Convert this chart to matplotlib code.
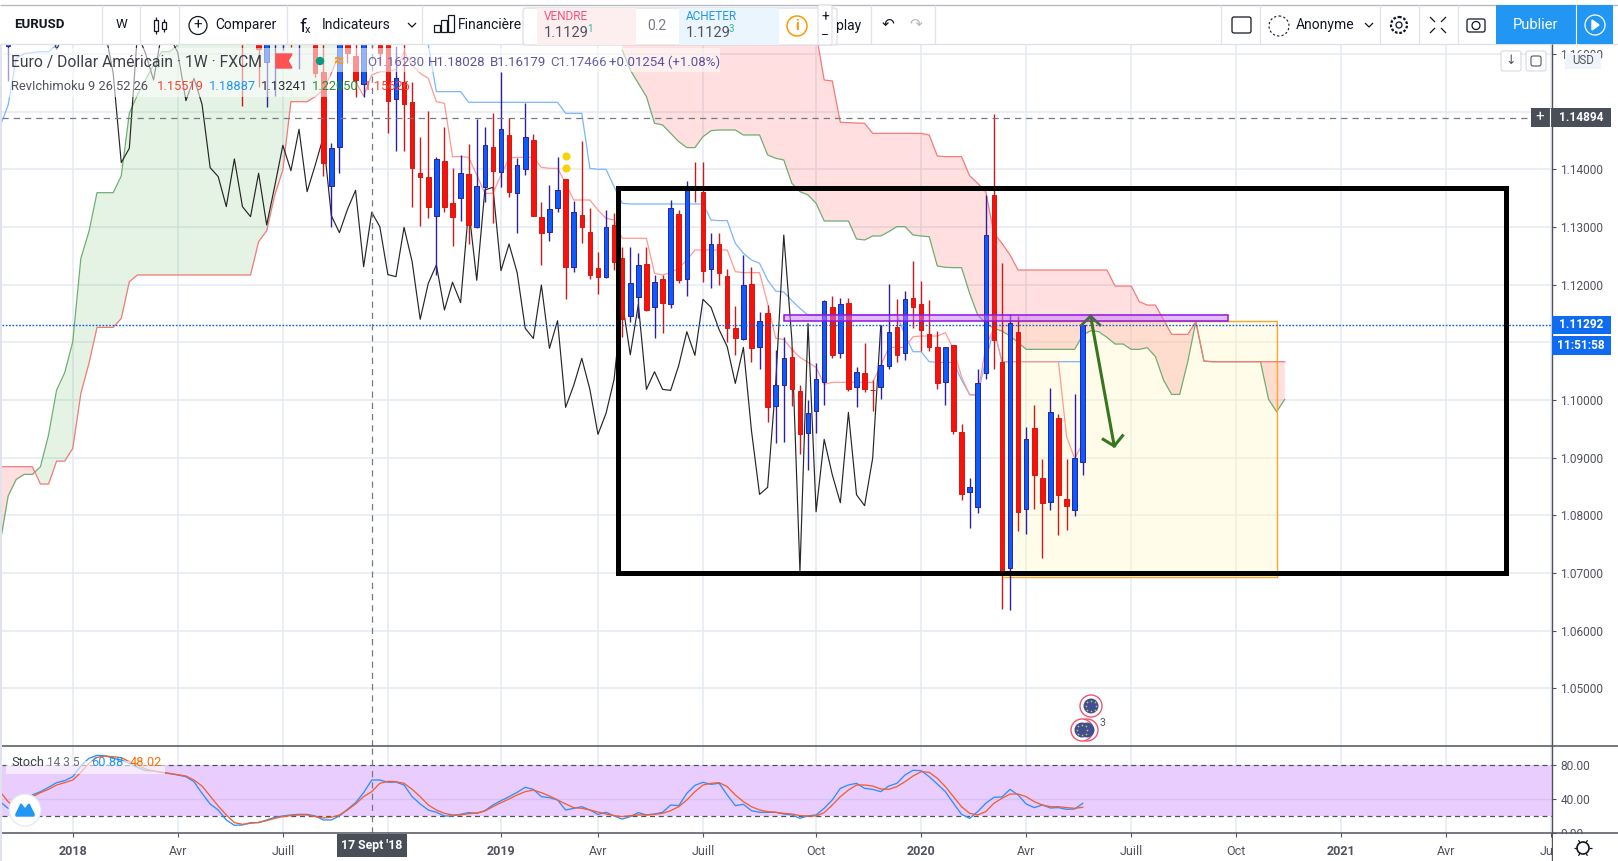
import numpy as np
import matplotlib
matplotlib.use('Agg')
import matplotlib.pyplot as plt
from matplotlib.patches import Rectangle, Circle, FancyBboxPatch

plt.rcParams['font.family'] = ['Roboto', 'DejaVu Sans']

W, H = 1618, 861

# weekly bars, bar 0 = first week of 2018
bar_idx = [-8] + list(range(21, 126))
opens = [1.1614, 1.16589, 1.1660, 1.16474, 1.15867, 1.1630, 1.1630, 1.16416, 1.1630, 1.1655,
         1.16358, 1.15682, 1.13717, 1.14381, 1.1630, 1.15971, 1.15474, 1.16416, 1.16358, 1.16358,
         1.15214, 1.1552, 1.15162, 1.13931, 1.13867, 1.13197, 1.14145, 1.1341, 1.13509, 1.13913,
         1.13006, 1.13688, 1.14381, 1.13948, 1.1459, 1.13595, 1.14, 1.14509, 1.13168, 1.12919,
         1.13335, 1.13827, 1.12312, 1.13208, 1.12913, 1.12283, 1.12139, 1.13035, 1.12457, 1.11457,
         1.1178, 1.12358, 1.11607, 1.12093, 1.11659, 1.13225, 1.12093, 1.13700, 1.13607, 1.12266,
         1.127, 1.1215, 1.11242, 1.11057, 1.12011, 1.10924, 1.11502, 1.09901, 1.10254, 1.10739,
         1.10161, 1.09421, 1.09803, 1.10306, 1.11606, 1.10808, 1.11675, 1.1023, 1.10473, 1.10173,
         1.1023, 1.10583, 1.11259, 1.10808, 1.11762, 1.11664, 1.11138, 1.10912, 1.10306, 1.10953,
         1.09439, 1.0841, 1.0815, 1.10462, 1.13554, 1.10658, 1.0708, 1.11173, 1.08103, 1.09508,
         1.08641, 1.08225, 1.09681, 1.08277, 1.08086, 1.0893]
highs = [1.1640, 1.16705, 1.1670, 1.16589, 1.16474, 1.16532, 1.16532, 1.16532, 1.16532, 1.1665,
         1.16474, 1.1630, 1.14451, 1.16474, 1.16416, 1.1630, 1.16474, 1.16532, 1.16474, 1.16474,
         1.16127, 1.1630, 1.1552, 1.14566, 1.15012, 1.1422, 1.14728, 1.14017, 1.14243, 1.14439,
         1.14873, 1.14728, 1.14971, 1.15694, 1.14896, 1.14191, 1.15144, 1.14607, 1.13428, 1.13728,
         1.14208, 1.13827, 1.13457, 1.14491, 1.13324, 1.12567, 1.13295, 1.13237, 1.12647, 1.12647,
         1.12543, 1.12647, 1.12168, 1.12168, 1.13468, 1.13295, 1.13803, 1.14121, 1.14127, 1.1289,
         1.1289, 1.12266, 1.11629, 1.12514, 1.12311, 1.11531, 1.11647, 1.10866, 1.11097, 1.10895,
         1.10254, 1.09999, 1.10635, 1.11733, 1.11803, 1.11762, 1.11762, 1.10566, 1.10982, 1.10346,
         1.1130, 1.12011, 1.11751, 1.11889, 1.12409, 1.12063, 1.11733, 1.11196, 1.10924, 1.10953,
         1.09577, 1.08641, 1.10537, 1.13554, 1.14958, 1.12369, 1.1149, 1.11456, 1.09531, 1.09913,
         1.08976, 1.10213, 1.09751, 1.08976, 1.10103, 1.11292]
lows = [1.15537, 1.15104, 1.1640, 1.15433, 1.15087, 1.15277, 1.16069, 1.16127, 1.1574, 1.1625,
        1.15595, 1.13884, 1.13006, 1.13942, 1.1585, 1.1526, 1.1526, 1.16098, 1.1585, 1.14636,
        1.14324, 1.14324, 1.13353, 1.13023, 1.13162, 1.12168, 1.13266, 1.12671, 1.13104, 1.127,
        1.12977, 1.13428, 1.13064, 1.137, 1.13526, 1.12902, 1.13902, 1.13197, 1.12341, 1.12763,
        1.13266, 1.11752, 1.12226, 1.12728, 1.12098, 1.11838, 1.1211, 1.12254, 1.11098, 1.11359,
        1.11416, 1.11549, 1.1107, 1.11168, 1.11601, 1.12023, 1.11809, 1.13428, 1.12052, 1.11937,
        1.11994, 1.11012, 1.1078, 1.1104, 1.10664, 1.10531, 1.09623, 1.09259, 1.09277, 1.09901,
        1.09057, 1.08785, 1.09421, 1.09913, 1.10733, 1.10733, 1.10161, 1.09884, 1.10144, 1.09814,
        1.10022, 1.10531, 1.10664, 1.10693, 1.11253, 1.10849, 1.10855, 1.10196, 1.09913, 1.0941,
        1.08265, 1.07785, 1.08046, 1.10363, 1.10537, 1.06375, 1.06358, 1.07733, 1.07676, 1.08109,
        1.07265, 1.08092, 1.07658, 1.07745, 1.07994, 1.08699]
closes = [1.1630, 1.16416, 1.1650, 1.16081, 1.16358, 1.16416, 1.16416, 1.1630, 1.16416, 1.1640,
          1.15665, 1.14116, 1.14364, 1.16358, 1.16011, 1.15549, 1.16358, 1.1630, 1.16023, 1.15191,
          1.15578, 1.15127, 1.14029, 1.13873, 1.13353, 1.14179, 1.13353, 1.13179, 1.13931, 1.13035,
          1.13711, 1.14416, 1.13977, 1.14694, 1.13613, 1.14069, 1.14555, 1.13197, 1.12902, 1.13306,
          1.13636, 1.12312, 1.13254, 1.13006, 1.12174, 1.12139, 1.12994, 1.12399, 1.11399, 1.12023,
          1.12341, 1.11561, 1.12041, 1.11688, 1.13324, 1.12075, 1.13642, 1.13688, 1.12243, 1.12705,
          1.12208, 1.11243, 1.11068, 1.11993, 1.10895, 1.11375, 1.09872, 1.10254, 1.10722, 1.10184,
          1.09404, 1.09768, 1.10358, 1.11716, 1.10785, 1.11658, 1.10184, 1.1049, 1.10184, 1.10167,
          1.106, 1.11184, 1.10774, 1.11745, 1.11606, 1.11219, 1.10924, 1.10288, 1.10912, 1.09467,
          1.08363, 1.08485, 1.10288, 1.1286, 1.11045, 1.07023, 1.11329, 1.08063, 1.09317, 1.08704,
          1.08219, 1.09785, 1.08358, 1.08167, 1.08988, 1.11292]

# cloud on the left of the chart, bars -9 to 34
left_span_a = [1.07514, 1.08335, 1.08624, 1.0871, 1.0871, 1.08843, 1.09392, 1.10173, 1.10473, 1.11011,
               1.12456, 1.12919, 1.13595, 1.13595, 1.13595, 1.13884, 1.14971, 1.15289, 1.15549, 1.15809,
               1.1604, 1.1604, 1.16156, 1.16358, 1.1650, 1.1670, 1.1680, 1.1690, 1.1700, 1.1700,
               1.1700, 1.1700, 1.1700, 1.1700, 1.1700, 1.1700, 1.1700, 1.1700, 1.1700, 1.1700,
               1.1700, 1.1700, 1.1700, 1.1700]
left_span_b = [1.08843, 1.08843, 1.08843, 1.08843, 1.08843, 1.08543, 1.08543, 1.08941, 1.08941, 1.09161,
               1.10115, 1.10635, 1.11259, 1.11259, 1.11259, 1.11415, 1.12051, 1.12168, 1.12168, 1.12168,
               1.12168, 1.12168, 1.12168, 1.12168, 1.12168, 1.12168, 1.12168, 1.12168, 1.12168, 1.12168,
               1.12168, 1.12168, 1.12746, 1.12936, 1.13555, 1.13988, 1.15173, 1.15173, 1.15173, 1.1526,
               1.15376, 1.15665, 1.16011, 1.1640]

# cloud on the right, bars 68 to 150
right_span_a = [1.16069, 1.15722, 1.15491, 1.1526, 1.14798, 1.14769, 1.14624, 1.1448, 1.14376, 1.14376,
                1.14566, 1.1467, 1.14682, 1.14682, 1.14682, 1.14595, 1.14595, 1.14595, 1.14249, 1.14191,
                1.14162, 1.13757, 1.13613, 1.13555, 1.1341, 1.13104, 1.13104, 1.13104, 1.13104, 1.12792,
                1.12775, 1.12844, 1.12844, 1.12919, 1.13006, 1.13006, 1.12861, 1.12844, 1.12832, 1.12324,
                1.12301, 1.12295, 1.12295, 1.1185, 1.11474, 1.1133, 1.11243, 1.11196, 1.11109, 1.10999,
                1.10878, 1.10878, 1.10878, 1.10878, 1.10878, 1.10878, 1.10878, 1.11126, 1.11201, 1.11184,
                1.11086, 1.1097, 1.1097, 1.10878, 1.10878, 1.10907, 1.10751, 1.10346, 1.10097, 1.10097,
                1.10664, 1.11358, 1.10675, 1.10664, 1.10664, 1.10664, 1.10664, 1.10664, 1.10664, 1.10664,
                1.10011, 1.09797, 1.10011]
right_span_b = [1.17, 1.17, 1.17, 1.17, 1.17, 1.17, 1.17, 1.17, 1.17, 1.17,
                1.17, 1.17, 1.17, 1.17, 1.17, 1.17, 1.17, 1.17, 1.17, 1.17,
                1.17, 1.17, 1.17, 1.17, 1.16358, 1.15549, 1.15532, 1.14815, 1.14809, 1.14803,
                1.14798, 1.14624, 1.14624, 1.14624, 1.14624, 1.14624, 1.14624, 1.14624, 1.14595, 1.14231,
                1.1422, 1.1422, 1.1422, 1.1389, 1.13757, 1.13613, 1.1289, 1.12717, 1.12515, 1.12254,
                1.12254, 1.12254, 1.12254, 1.12254, 1.12254, 1.12254, 1.12254, 1.12254, 1.12254, 1.12254,
                1.12254, 1.11976, 1.11976, 1.11976, 1.11704, 1.11646, 1.11646, 1.11392, 1.11138, 1.11138,
                1.11138, 1.11358, 1.10675, 1.10664, 1.10664, 1.10664, 1.10664, 1.10664, 1.10664, 1.10664,
                1.10664, 1.10664, 1.10664]

# base line: bars -9 to -1, then 43 to 125
kijun_left = [1.1474, 1.15116, 1.15925, 1.16011, 1.16023, 1.1604, 1.1604, 1.16156, 1.16358]
kijun_right = [1.1647, 1.16156, 1.15347, 1.15347, 1.15347, 1.15347, 1.15162, 1.15162, 1.15162, 1.15162,
               1.15162, 1.15162, 1.15162, 1.15162, 1.15162, 1.15162, 1.15162, 1.15162, 1.14971, 1.14971,
               1.14971, 1.14017, 1.14, 1.14, 1.137, 1.1341, 1.13399, 1.13399, 1.13399, 1.13399,
               1.13399, 1.13399, 1.13399, 1.13399, 1.13399, 1.13399, 1.13121, 1.1311, 1.1311, 1.12717,
               1.12543, 1.12428, 1.1237, 1.1208, 1.11889, 1.11872, 1.11722, 1.11589, 1.11473, 1.11473,
               1.11473, 1.11473, 1.11473, 1.11473, 1.11473, 1.11473, 1.11473, 1.11473, 1.11473, 1.11473,
               1.11126, 1.10837, 1.10837, 1.10664, 1.10652, 1.10652, 1.10652, 1.10346, 1.10097, 1.10086,
               1.10693, 1.11225, 1.10664, 1.10664, 1.10664, 1.10664, 1.10664, 1.10664, 1.10664, 1.10664,
               1.10664, 1.10664, 1.10664]

# conversion line, bars 35 to 125
tenkan = [1.1552, 1.15272, 1.15636, 1.15694, 1.15694, 1.15734, 1.1604, 1.15809, 1.15665, 1.15578,
          1.15173, 1.15144, 1.1422, 1.1422, 1.14208, 1.13902, 1.13584, 1.13584, 1.13902, 1.14191,
          1.14208, 1.14208, 1.14208, 1.14035, 1.14017, 1.14017, 1.13757, 1.13468, 1.13468, 1.13468,
          1.13295, 1.1315, 1.13121, 1.12804, 1.12804, 1.12804, 1.12804, 1.12197, 1.12168, 1.12208,
          1.12283, 1.12428, 1.12601, 1.12601, 1.12601, 1.12601, 1.12601, 1.12226, 1.12208, 1.12208,
          1.12208, 1.11675, 1.11069, 1.11051, 1.10878, 1.10739, 1.10652, 1.10566, 1.10271, 1.10306,
          1.10306, 1.10306, 1.10306, 1.10306, 1.10306, 1.106, 1.10912, 1.10912, 1.10912, 1.11097,
          1.11109, 1.11109, 1.11109, 1.11167, 1.10878, 1.10404, 1.10086, 1.10086, 1.10924, 1.11242,
          1.10664, 1.10664, 1.10664, 1.10664, 1.10664, 1.10664, 1.10664, 1.10664, 1.09363, 1.08988,
          1.09248]

# stochastic, bars -9 to 125
stoch_k = [36.5, 28.7, 26.7, 34.6, 44.4, 48.3, 53.4, 58.9, 61.2, 65.9, 78.5, 87.5, 91.0, 90.6, 87.5, 85.5,
           81.6, 76.9, 73.0, 72.6, 71.0, 69.8, 67.9, 65.9, 60.0, 46.3, 33.8, 26.7, 15.0, 8.7, 9.1, 11.8,
           11.8, 15.0, 18.1, 19.7, 20.9, 21.6, 21.6, 19.7, 15.0, 15.0, 19.7, 27.5, 35.3, 47.1, 62.0, 62.0,
           59.3, 59.6, 56.1, 42.4, 33.8, 26.7, 24.0, 19.7, 19.7, 21.6, 23.6, 22.8, 25.9, 32.6, 37.7, 42.4,
           47.5, 53.4, 51.0, 42.4, 41.2, 38.5, 26.7, 28.7, 30.6, 26.7, 21.6, 24.0, 19.7, 16.1, 18.9, 23.6,
           20.9, 22.0, 24.0, 32.6, 31.8, 46.3, 55.7, 59.3, 56.9, 58.1, 44.4, 31.8, 33.4, 25.9, 24.0, 24.0,
           24.0, 22.0, 20.9, 16.9, 19.7, 20.9, 28.7, 38.5, 52.2, 56.1, 58.1, 52.2, 51.0, 48.3, 54.9, 58.1,
           67.9, 73.4, 73.0, 65.9, 57.3, 48.3, 34.6, 21.6, 16.9, 24.8, 34.6, 41.6, 42.0, 51.0, 44.4, 33.8,
           29.5, 32.6, 29.1, 29.5, 27.5, 27.9, 34.6]
stoch_d = [48.3, 36.5, 28.7, 34.6, 42.4, 47.1, 51.0, 56.1, 58.9, 62.0, 71.0, 81.6, 88.7, 90.2, 89.4, 88.3,
           83.6, 79.6, 74.9, 72.6, 71.0, 69.4, 68.3, 66.7, 62.0, 54.9, 43.2, 31.4, 20.9, 11.8, 9.9, 11.0,
           12.2, 14.2, 16.9, 18.9, 20.1, 20.9, 20.9, 18.9, 17.3, 18.1, 20.9, 26.7, 33.8, 42.4, 48.3, 58.1,
           60.4, 60.0, 58.1, 51.0, 42.4, 32.6, 26.7, 22.8, 20.9, 20.9, 22.4, 23.2, 25.5, 30.6, 35.3, 39.7,
           44.4, 48.3, 50.2, 47.1, 43.2, 38.5, 33.8, 29.5, 28.7, 26.7, 24.4, 22.0, 20.1, 18.9, 20.1, 20.9,
           20.9, 21.6, 22.8, 25.9, 30.6, 38.5, 48.3, 56.1, 58.1, 58.9, 54.2, 44.4, 36.5, 30.6, 26.7, 24.8,
           24.0, 22.8, 22.0, 20.1, 19.7, 19.7, 23.6, 32.6, 42.4, 50.2, 56.1, 56.1, 54.9, 51.4, 51.0, 54.2,
           60.0, 66.7, 71.8, 71.0, 64.0, 54.2, 42.4, 30.6, 22.8, 20.9, 24.8, 34.6, 40.4, 45.5, 45.5, 42.4,
           36.5, 32.6, 30.6, 30.6, 29.5, 28.7, 29.9]

time_ticks = [0, 13, 26, 39, 53, 65, 78, 92, 105, 118, 131, 144, 157, 170, 183]
# the Oct 2018 label sits behind the crosshair date tag in the screenshot
time_labels = ['2018', 'Avr', 'Juill', '', '2019', 'Avr', 'Juill', 'Oct', '2020', 'Avr', 'Juill', 'Oct',
               '2021', 'Avr', 'Juill']
price_ticks = [1.05, 1.06, 1.07, 1.08, 1.09, 1.10, 1.11, 1.12, 1.13, 1.14, 1.15, 1.16]
stoch_ticks = [0, 40, 80]

GRID = '#e3ebf1'
AXTXT = '#50535e'
BLUE_TV = '#2196f3'


def px_axes(fig, x0, y0, x1, y1):
    return fig.add_axes([x0 / W, (H - y1) / H, (x1 - x0) / W, (y1 - y0) / H])


def draw_candles(ax):
    o, h, l, c = map(np.array, (opens, highs, lows, closes))
    x = np.array(bar_idx)
    up = c >= o
    ax.vlines(x[up], l[up], h[up], color='#2f1fa3', lw=1.0, zorder=5)
    ax.vlines(x[~up], l[~up], h[~up], color='#cc1a1a', lw=1.0, zorder=5)
    ax.bar(x[up], (c - o)[up], bottom=o[up], width=0.56, color='#0a5cff', edgecolor='#2f1fa3', lw=0.7, zorder=6)
    ax.bar(x[~up], (o - c)[~up], bottom=c[~up], width=0.56, color='#fb1108', edgecolor='#cc1a1a', lw=0.7, zorder=6)


def draw_cloud(ax, x, a, b):
    a, b = np.array(a), np.array(b)
    ax.fill_between(x, a, b, where=a >= b, interpolate=True, color='#4caf50', alpha=0.15, lw=0, zorder=2)
    ax.fill_between(x, a, b, where=a < b, interpolate=True, color='#ff5252', alpha=0.18, lw=0, zorder=2)
    ax.plot(x, a, color='#6fae72', lw=0.9, zorder=3)
    ax.plot(x, b, color='#f47a7a', lw=0.9, zorder=3)


def draw_main(ax):
    ax.set_xlim(-8.76, 183.08)
    ax.set_ylim(1.04, 1.16173)
    ax.set_yticks(price_ticks)
    ax.set_yticklabels(['%.5f' % p for p in price_ticks])
    ax.set_xticks(time_ticks)
    ax.tick_params(axis='x', length=0, labelbottom=False)
    ax.yaxis.tick_right()
    ax.tick_params(axis='y', length=3, width=0.8, color=AXTXT, labelcolor=AXTXT, labelsize=8.6, pad=3)
    ax.grid(color=GRID, lw=1.1)
    ax.set_axisbelow(True)
    for s in ax.spines.values():
        s.set_visible(False)

    # long position box
    ax.add_patch(Rectangle((115.3, 1.0693), 33.7, 1.11375 - 1.0693, fc='#fff9c4', alpha=0.35, lw=0, zorder=1))
    ax.plot([115.3, 149, 149], [1.11375, 1.11375, 1.0693], color='#ffa726', lw=1.0, zorder=4)
    ax.plot([115.3, 149], [1.0693, 1.0693], color='#ffa726', lw=1.0, zorder=4)

    draw_cloud(ax, np.arange(-9, 35), left_span_a, left_span_b)
    draw_cloud(ax, np.arange(68, 151), right_span_a, right_span_b)

    ax.plot(np.arange(-9, 0), kijun_left, color='#7ab6ff', lw=0.9, zorder=3)
    ax.plot(np.arange(43, 126), kijun_right, color='#7ab6ff', lw=0.9, zorder=3)
    ax.plot(np.arange(35, 126), tenkan, color='#ff9a92', lw=0.9, zorder=3)
    ax.plot(np.array(bar_idx[1:]) - 25, closes[1:], color='#262626', lw=0.85, zorder=4)

    draw_candles(ax)

    ax.axhline(1.11292, color='#0d5ed8', lw=1.0, ls=(0, (1.2, 1.2)), zorder=7)
    ax.axhline(1.14894, color='#757a85', lw=0.9, ls=(0, (5, 4)), zorder=7)
    ax.axvline(37.08, color='#757a85', lw=0.9, ls=(0, (5, 4)), zorder=7)

    ax.scatter([61.06, 61.06], [1.14225, 1.14017], s=34, color='#f7d308', lw=0, zorder=8)

    # drawings on top of the chart
    ax.add_patch(Rectangle((88.0, 1.11363), 55.0, 1.11467 - 1.11363, fc='#c77dff', alpha=0.5, lw=0, zorder=8))
    ax.add_patch(Rectangle((88.0, 1.11363), 55.0, 1.11467 - 1.11363, fc='none', ec='#9414e0', lw=1.1, zorder=8))
    ax.plot([125.97, 128.9], [1.11456, 1.09202], color='#38761d', lw=2.2, zorder=9)
    ax.plot([127.54, 128.9, 129.93], [1.09317, 1.09202, 1.09381], color='#38761d', lw=2.2, zorder=9)
    ax.plot([124.86, 125.97, 127.13], [1.1130, 1.11456, 1.1130], color='#4e6650', lw=2.0, zorder=9)
    ax.add_patch(Rectangle((67.47, 1.07), 177.4 - 67.47, 1.13684 - 1.07, fc='none', ec='black', lw=3.6,
                           joinstyle='miter', zorder=10))


def draw_stoch(ax):
    ax.set_xlim(-8.76, 183.08)
    ax.set_ylim(0, 102)
    ax.axhspan(20, 80, color='#e9cdff', lw=0, zorder=1)
    ax.axhline(40, color='#d6c2f0', lw=1.0, zorder=2)
    ax.axhline(80, color='#50535e', lw=0.9, ls=(0, (4, 3)), zorder=3)
    ax.axhline(20, color='#50535e', lw=0.9, ls=(0, (4, 3)), zorder=3)
    ax.set_xticks(time_ticks)
    ax.set_xticklabels(time_labels)
    ax.set_yticks(stoch_ticks)
    ax.set_yticklabels(['%.2f' % v for v in stoch_ticks])
    ax.yaxis.tick_right()
    ax.tick_params(axis='y', length=3, width=0.8, color=AXTXT, labelcolor=AXTXT, labelsize=8.6, pad=3)
    ax.tick_params(axis='x', length=3, width=0.8, color=AXTXT, labelcolor=AXTXT, labelsize=9, pad=6)
    for lab in ax.get_xticklabels():
        if lab.get_text().isdigit():
            lab.set_fontweight('bold')
    ax.grid(axis='x', color=GRID, lw=1.1)
    ax.set_axisbelow(True)
    for s in ax.spines.values():
        s.set_visible(False)
    ax.plot(np.arange(-9, -9 + len(stoch_k)), stoch_k, color='#2f8fff', lw=0.95, zorder=4)
    ax.plot(np.arange(-9, -9 + len(stoch_d)), stoch_d, color='#f4602c', lw=0.95, zorder=4)
    ax.axvline(37.08, color='#757a85', lw=0.9, ls=(0, (5, 4)), zorder=5)


def draw_chrome(ov):
    ov.set_xlim(0, W)
    ov.set_ylim(H, 0)
    ov.axis('off')
    ov.patch.set_alpha(0)

    def txt(x, y, s, color='#131722', size=10, ha='left', weight='normal', z=12):
        ov.text(x, y, s, color=color, fontsize=size, ha=ha, va='center', fontweight=weight, zorder=z)

    def box(x0, y0, x1, y1, fc, z=1, alpha=1.0, ec='none', lw=0):
        ov.add_patch(Rectangle((x0, y0), x1 - x0, y1 - y0, fc=fc, ec=ec, lw=lw, alpha=alpha, zorder=z))

    def line(xs, ys, color='#e0e3eb', lw=0.9, z=3, ls='-'):
        ov.plot(xs, ys, color=color, lw=lw, zorder=z, ls=ls, solid_capstyle='butt')

    # top toolbar
    box(0, 0, W, 44, 'white')
    line([0, W], [5, 5], color='#b8bbc2', lw=1.0)
    line([0, W], [44, 44], color='#dfe2e8', lw=1.0)
    box(0, 44, 2, H, '#e0e3eb')
    for x in [102, 140.5, 179, 287, 422.5, 871, 935, 1221, 1260, 1380, 1419, 1458]:
        line([x, x], [5, 44])
    txt(14, 25, 'EURUSD', size=9.5, weight='bold')
    txt(121, 25, 'W', size=9.5, ha='center')
    # candle icon
    for cx, y0, y1 in [(156, 20, 31), (164, 22, 29)]:
        ov.add_patch(Rectangle((cx - 2, y0), 4, y1 - y0, fc='white', ec='#131722', lw=0.9, zorder=4))
        line([cx, cx], [y0 - 3, y1 + 3], color='#131722', z=3)
    ov.add_patch(Circle((198, 25.5), 9, fc='none', ec='#131722', lw=0.9, zorder=4))
    txt(198, 25, '+', size=11, ha='center')
    txt(215, 25, 'Comparer')
    txt(299, 27, 'f', size=14, ha='left')
    txt(305, 30, 'x', size=8)
    txt(322, 25, 'Indicateurs')
    line([408, 412, 416], [23, 27, 23], color='#131722')
    for x, h in [(434, 7), (441, 12), (448, 17)]:
        ov.add_patch(Rectangle((x, 32 - h), 6, h, fc='none', ec='#131722', lw=0.9, zorder=4))
    txt(458, 25, 'Financière')
    txt(836, 26, 'play')
    txt(888, 24, '↶', color='#131722', size=11, ha='center')
    txt(916, 24, '↷', color='#b2b5be', size=11, ha='center')

    # order widget
    ov.add_patch(FancyBboxPatch((523, 8), 314, 37, boxstyle='round,pad=0,rounding_size=3', fc='white',
                                ec='#d8dbe2', lw=0.8, zorder=6))
    box(537, 8, 636, 45, '#fdeef0', z=7)
    box(679, 8, 779, 45, '#ebf5fd', z=7)
    txt(544, 17, 'VENDRE', color='#f5527d', size=8.5, z=8)
    txt(544, 33, '1.1129', color='#50535e', size=10.5, z=8)
    txt(587, 29, '1', color='#26b99a', size=7, z=8)
    txt(657, 26, '0.2', color='#787b86', size=10, ha='center', z=8)
    txt(686, 17, 'ACHETER', color='#2196f3', size=8.5, z=8)
    txt(686, 33, '1.1129', color='#50535e', size=10.5, z=8)
    txt(729, 29, '3', color='#26b99a', size=7, z=8)
    ov.add_patch(Circle((797, 26), 10, fc='white', ec='#ff9800', lw=1.1, zorder=8))
    txt(797, 26, 'i', color='#ff9800', size=10, ha='center', weight='bold', z=9)
    ov.add_patch(FancyBboxPatch((818, 5), 14, 40, boxstyle='round,pad=0,rounding_size=2', fc='white',
                                ec='#d8dbe2', lw=0.7, zorder=8))
    txt(825, 17, '+', size=10, ha='center', z=9)
    txt(825, 35, '−', size=10, ha='center', z=9)

    # right side of the toolbar
    ov.add_patch(FancyBboxPatch((1232, 17), 19, 16, boxstyle='round,pad=0,rounding_size=2', fc='white',
                                ec='#131722', lw=0.9, zorder=4))
    ov.add_patch(Circle((1279, 26), 10, fc='none', ec='#131722', lw=0.8, ls=(0, (2, 2)), zorder=4))
    txt(1296, 25, 'Anonyme')
    line([1365, 1369, 1373], [23, 27, 23], color='#131722')
    ov.add_patch(Circle((1399, 25), 8, fc='none', ec='#131722', lw=1.6, ls=(0, (1.2, 0.8)), zorder=4))
    ov.add_patch(Circle((1399, 25), 3, fc='none', ec='#131722', lw=0.9, zorder=4))
    for sx, sy in [(-1, -1), (1, -1), (-1, 1), (1, 1)]:
        line([1438 + sx * 3, 1438 + sx * 8], [25 + sy * 3, 25 + sy * 8], color='#131722')
    ov.add_patch(FancyBboxPatch((1467, 19), 18, 13, boxstyle='round,pad=0,rounding_size=2', fc='white',
                                ec='#131722', lw=0.9, zorder=4))
    ov.add_patch(Circle((1476, 25.5), 4, fc='none', ec='#131722', lw=0.9, zorder=5))
    box(1496, 5, 1613, 44, BLUE_TV, z=4)
    line([1576, 1576], [5, 44], color='white', lw=0.8, z=5)
    txt(1536, 25, 'Publier', color='white', size=10.5, ha='center')
    ov.add_patch(Circle((1595, 25), 10, fc='none', ec='white', lw=0.9, zorder=5))
    ov.fill([1592, 1592, 1599], [20, 30, 25], color='white', zorder=5)

    # legend
    box(2, 48, 720, 72, 'white', z=2, alpha=0.55)
    box(2, 72, 330, 97, 'white', z=2, alpha=0.55)
    txt(11, 62, 'Euro / Dollar Américain · 1W · FXCM', color='#3c3f47', size=11.3)
    txt(11, 86, 'RevIchimoku 9 26 52 26', color='#50535e', size=9.3)
    for x, s, c in [(157, '1.15519', '#f44336'), (209, '1.18887', '#2196f3'), (261, '1.13241', '#2a2e39'),
                    (312, '1.22050', '#2e8b2e'), (364, '1.15626', '#f44336')]:
        txt(x, 86, s, color=c, size=9.3)
    for x, s, c in [(367, 'O1.16230', '#6a62aa'), (428, 'H1.18028', '#5a52a5'), (490, 'B1.16179', '#5a52a5'),
                    (550, 'C1.17466', '#6a62aa'), (609, '+0.01254 (+1.08%)', '#5a52a5')]:
        txt(x, 62, s, color=c, size=9.5)
    ov.fill([276, 292, 288, 292, 276], [54, 54, 61, 68, 68], color='#ff5252', zorder=6)
    ov.add_patch(Circle((320, 61), 4.2, fc='#089981', zorder=6))
    txt(338, 61, '≈', color='#ff9800', size=13, ha='center', weight='bold')

    # price axis furniture
    line([1552, 1552], [44, H], color='#50535e', lw=1.0, z=4)
    line([2, W], [746, 746], color='#50535e', lw=1.1, z=4)
    box(1553, 833.5, W, H, 'white', z=2)
    line([2, W], [833, 833], color='#50535e', lw=1.1, z=4)
    for x in [1511, 1536]:
        ov.add_patch(FancyBboxPatch((x - 10, 51), 20, 20, boxstyle='round,pad=0,rounding_size=2', fc='white',
                                    ec='#d8dbe2', lw=0.8, zorder=5))
    txt(1511, 61, '↓', color='#50535e', size=9, ha='center')
    ov.add_patch(FancyBboxPatch((1531, 56), 10, 10, boxstyle='round,pad=0,rounding_size=2', fc='none',
                                ec='#50535e', lw=0.8, zorder=6))
    box(1565, 53, 1601, 69, '#f0f3fa', z=5)
    txt(1583, 61, 'USD', color='#50535e', size=8.3, ha='center')

    box(1531, 108, 1611, 127, '#4a4e59', z=5)
    line([1550, 1550], [108, 127], color='white', lw=0.8, z=6)
    txt(1540, 117.5, '+', color='white', size=11, ha='center')
    txt(1581, 117.5, '1.14894', color='white', size=8.6, ha='center', weight='bold')
    box(1552, 316, 1611, 334, '#0f6cf0', z=5)
    txt(1581, 325, '1.11292', color='white', size=8.6, ha='center', weight='bold')
    box(1552, 336, 1611, 355, '#0f6cf0', z=5)
    txt(1581, 345.5, '11:51:58', color='white', size=8.6, ha='center', weight='bold')

    # economic events
    ov.fill([1086, 1096, 1086], [722, 730, 738], color='#f0566e', zorder=4)
    for x, y in [(1091, 706), (1087, 730), (1082, 730)]:
        ov.add_patch(Circle((x, y), 11, fc='white', ec='#f0566e', lw=1.0, zorder=5))
        ov.add_patch(Circle((x, y), 7.5, fc='#3f4f91', ec='none', zorder=6))
    for x, y in [(1091, 706), (1082, 730)]:
        a = np.radians(np.arange(0, 360, 45))
        ov.scatter(x + 5 * np.cos(a), y + 5 * np.sin(a), s=1.5, color='#d9c24a', lw=0, zorder=7)
    txt(1100, 723, '3', color='#50535e', size=7.5, z=7)

    # stochastic legend and logo
    box(6, 761, 165, 774, 'white', z=2, alpha=0.6)
    txt(11, 763, 'Stoch', color='#3c3f47', size=9.2)
    txt(47, 763, '14 3 5', color='#6a6d78', size=8.6)
    txt(91, 763, '60.88', color='#2196f3', size=9.2)
    txt(130, 763, '48.02', color='#ff6d00', size=9.2)
    ov.add_patch(Circle((25, 810), 16, fc='white', ec='#e3e5ea', lw=0.8, zorder=5))
    ov.fill([16, 21, 25, 29, 34, 34, 16], [814, 804, 809, 804, 814, 816, 816], color=BLUE_TV, zorder=6)

    # time axis tag and settings
    box(337, 834, 407, 857, '#4a4e59', z=5)
    txt(372, 846, "17 Sept '18", color='white', size=8.8, ha='center', weight='bold')
    box(1553, 834, W, H, 'white', z=5)
    ov.add_patch(Circle((1583, 848), 6, fc='none', ec='#131722', lw=1.2, zorder=6))
    for a in np.arange(0, 360, 60):
        dx, dy = np.cos(np.radians(a)), np.sin(np.radians(a))
        line([1583 + 6 * dx, 1583 + 9 * dx], [848 + 6 * dy, 848 + 9 * dy], color='#131722', z=6)


def main():
    fig = plt.figure(figsize=(W / 100, H / 100), dpi=100, facecolor='white')
    ax_main = px_axes(fig, 2, 44, 1552, 746)
    ax_stoch = px_axes(fig, 2, 746, 1552, 832.7)
    ov = fig.add_axes([0, 0, 1, 1], zorder=10)
    draw_main(ax_main)
    draw_stoch(ax_stoch)
    draw_chrome(ov)
    fig.savefig('out.png', dpi=100, facecolor='white')


if __name__ == "__main__":
    main()
